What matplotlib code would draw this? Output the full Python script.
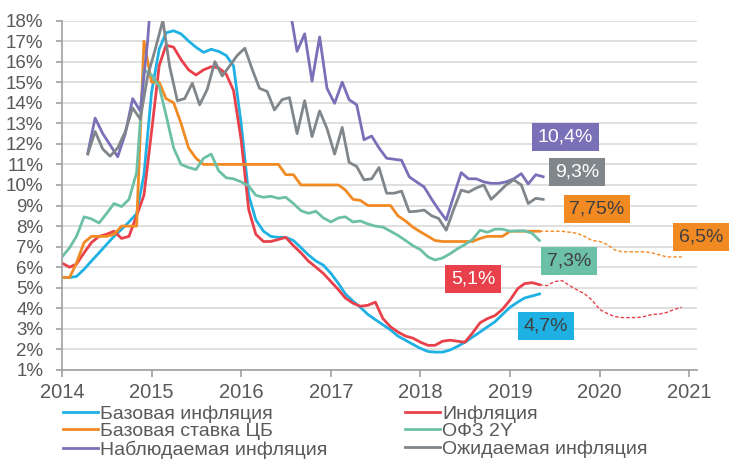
import numpy as np
import pandas as pd
import matplotlib
matplotlib.use("Agg")
import matplotlib.pyplot as plt
import matplotlib.dates as mdates
from matplotlib.ticker import PercentFormatter

plt.rcParams["font.family"] = ["Liberation Sans", "DejaVu Sans"]

# месячные даты (янв 2014 - май 2019) и прогноз (май 2019 - дек 2020)
dates = pd.date_range("2014-01-01", periods=65, freq="MS")
dates_fc = pd.date_range("2019-05-01", periods=20, freq="MS")
# опросы - середина месяца, с апреля 2014
dates_svy = pd.date_range("2014-04-01", periods=62, freq="MS") + pd.Timedelta(days=15)

core_infl = [5.5, 5.5, 5.55, 5.9, 6.3, 6.7, 7.1, 7.5, 7.85, 8.2, 8.6, 10.5, 14.5, 16.6, 17.4,
             17.5, 17.35, 17.0, 16.7, 16.45, 16.6, 16.5, 16.3, 15.8, 13.0, 9.5, 8.3, 7.75, 7.5,
             7.45, 7.45, 7.3, 6.95, 6.6, 6.3, 6.1, 5.7, 5.2, 4.7, 4.35, 4.05, 3.7, 3.45, 3.2,
             2.95, 2.65, 2.45, 2.25, 2.05, 1.9, 1.87, 1.87, 1.97, 2.15, 2.35, 2.6, 2.85, 3.1,
             3.35, 3.7, 4.05, 4.3, 4.5, 4.6, 4.7]
infl = [6.2, 6.0, 6.15, 6.7, 7.2, 7.5, 7.6, 7.75, 7.4, 7.5, 8.5, 9.5, 12.6, 15.8, 16.8,
        16.7, 16.1, 15.6, 15.35, 15.6, 15.75, 15.7, 15.4, 14.6, 12.2, 8.8, 7.6, 7.25, 7.25,
        7.35, 7.45, 7.05, 6.7, 6.3, 6.0, 5.7, 5.3, 4.9, 4.5, 4.25, 4.1, 4.15, 4.3, 3.5,
        3.1, 2.85, 2.65, 2.55, 2.35, 2.2, 2.2, 2.4, 2.45, 2.4, 2.35, 2.8, 3.3, 3.5, 3.65,
        3.95, 4.4, 4.95, 5.2, 5.25, 5.15]
infl_fc = [5.15, 5.1, 5.3, 5.35, 5.1, 4.9, 4.7, 4.4, 3.95, 3.75, 3.6, 3.55, 3.55, 3.55,
           3.6, 3.7, 3.72, 3.8, 3.95, 4.05]
key_rate = [5.5, 5.5, 6.2, 7.2, 7.5, 7.5, 7.5, 7.6, 8.0, 8.0, 8.0, 17.0, 15.0, 15.0, 14.2,
            14.0, 13.0, 11.8, 11.3, 11.0, 11.0, 11.0, 11.0, 11.0, 11.0, 11.0, 11.0, 11.0,
            11.0, 11.0, 10.5, 10.5, 10.0, 10.0, 10.0, 10.0, 10.0, 10.0, 9.75, 9.3, 9.25,
            9.0, 9.0, 9.0, 9.0, 8.5, 8.25, 7.95, 7.72, 7.5, 7.3, 7.25, 7.25, 7.25, 7.25,
            7.25, 7.4, 7.5, 7.5, 7.5, 7.75, 7.75, 7.75, 7.75, 7.75]
key_rate_fc = [7.75, 7.75, 7.75, 7.75, 7.7, 7.65, 7.5, 7.3, 7.25, 7.1, 6.85, 6.75, 6.75,
               6.75, 6.75, 6.7, 6.6, 6.5, 6.5, 6.5]
ofz2y = [6.5, 6.95, 7.5, 8.45, 8.35, 8.15, 8.6, 9.1, 8.95, 9.3, 10.6, 15.6, 15.35, 14.8,
         13.4, 11.8, 11.0, 10.85, 10.75, 11.3, 11.5, 10.7, 10.35, 10.3, 10.15, 9.95, 9.5,
         9.4, 9.45, 9.35, 9.4, 9.1, 8.75, 8.62, 8.72, 8.4, 8.2, 8.4, 8.45, 8.2, 8.25, 8.1,
         8.0, 7.95, 7.75, 7.55, 7.3, 7.05, 6.85, 6.5, 6.35, 6.45, 6.65, 6.9, 7.1, 7.35, 7.8,
         7.7, 7.85, 7.85, 7.75, 7.77, 7.77, 7.65, 7.3]
observed = [11.55, 13.25, 12.5, 11.95, 11.37, 12.5, 14.2, 13.6, 17.0, 22, 24, 24.5, 24,
            23.5, 23, 22.5, 22.5, 22, 21.5, 21, 21, 20.5, 20.5, 20, 20, 19.5, 19.5, 18.7,
            16.5, 17.35, 15.05, 17.2, 14.7, 13.97, 15.0, 14.15, 13.9, 12.2, 12.38, 11.8,
            11.3, 11.25, 11.2, 10.4, 10.15, 9.9, 9.3, 8.8, 8.3, 9.45, 10.6, 10.3, 10.3,
            10.15, 10.08, 10.08, 10.15, 10.3, 10.55, 10.05, 10.5, 10.4]
expected = [11.5, 12.6, 11.75, 11.4, 11.8, 12.6, 13.75, 13.2, 15.3, 16.6, 18.0, 15.75,
            14.1, 14.2, 14.95, 13.9, 14.65, 16.0, 15.3, 15.8, 16.3, 16.65, 15.6, 14.7,
            14.55, 13.65, 14.15, 14.25, 12.5, 14.1, 12.35, 13.6, 12.75, 11.5, 12.8, 11.1,
            10.9, 10.25, 10.3, 10.85, 9.6, 9.6, 9.7, 8.7, 8.72, 8.78, 8.5, 8.37, 7.8, 8.8,
            9.75, 9.65, 9.85, 10.0, 9.3, 9.65, 10.0, 10.25, 10.0, 9.1, 9.35, 9.3]

c_core, c_infl, c_rate = "#1fb1e3", "#e8414b", "#f28a23"
c_ofz, c_obs, c_exp = "#6cc0a7", "#7a70b8", "#80868a"

fig = plt.figure(figsize=(7.42, 4.70), dpi=100)
ax = fig.add_axes([62 / 742, 1 - 370 / 470, 635 / 742, 349.5 / 470])

lw = 2.0
l_core, = ax.plot(dates, core_infl, color=c_core, lw=lw, label="Базовая инфляция")
l_infl, = ax.plot(dates, infl, color=c_infl, lw=lw, label="Инфляция")
l_rate, = ax.plot(dates, key_rate, color=c_rate, lw=lw, label="Базовая ставка ЦБ")
l_ofz, = ax.plot(dates, ofz2y, color=c_ofz, lw=lw, label="ОФЗ 2Y")
l_obs, = ax.plot(dates_svy, observed, color=c_obs, lw=lw, label="Наблюдаемая инфляция")
l_exp, = ax.plot(dates_svy, expected, color=c_exp, lw=lw, label="Ожидаемая инфляция")
ax.plot(dates_fc, infl_fc, color=c_infl, lw=1.0, ls=(0, (2.5, 1.5)))
ax.plot(dates_fc, key_rate_fc, color=c_rate, lw=1.0, ls=(0, (2.5, 1.5)))

ax.set_ylim(1, 18)
ax.set_xlim(pd.Timestamp("2014-01-01"), pd.Timestamp("2021-02-01"))
ax.set_yticks(np.arange(1, 19))
ax.yaxis.set_major_formatter(PercentFormatter(decimals=0))
ax.xaxis.set_major_locator(mdates.YearLocator())
ax.xaxis.set_major_formatter(mdates.DateFormatter("%Y"))
ax.grid(axis="y", color="#d9d9d9", lw=1.2)
ax.set_axisbelow(True)
for s in ["top", "right"]:
    ax.spines[s].set_visible(False)
for s in ["left", "bottom"]:
    ax.spines[s].set_color("#a0a0a0")
    ax.spines[s].set_linewidth(1.2)
ax.tick_params(axis="y", length=4, width=1.2, color="#a0a0a0", pad=9.5,
               labelsize=13.5, labelcolor="#595959")
ax.tick_params(axis="x", length=5, width=1.2, color="#a0a0a0", pad=4,
               labelsize=14.5, labelcolor="#595959")

# подписи последних значений
labels = ["10,4%", "9,3%", "7,75%", "6,5%", "7,3%", "5,1%", "4,7%"]
label_pos = [("2019-08-15", 12.33), ("2019-10-01", 10.65), ("2019-12-20", 8.83),
             ("2021-02-17", 7.46), ("2019-08-29", 6.32), ("2018-08-03", 5.42),
             ("2019-05-27", 3.15)]
label_bg = [c_obs, c_exp, c_rate, c_rate, c_ofz, c_infl, c_core]
label_fg = ["white", "white", "#3f3f3f", "#3f3f3f", "#3f3f3f", "white", "#3f3f3f"]
for txt, (d, v), bg, fg in zip(labels, label_pos, label_bg, label_fg):
    ax.text(pd.Timestamp(d), v, txt, ha="center", va="center", fontsize=14, color=fg,
            bbox=dict(boxstyle="square,pad=0.28", fc=bg, ec="none"), clip_on=False)

fig.legend(handles=[l_core, l_rate, l_obs, l_infl, l_ofz, l_exp], ncol=2,
           loc="upper left", bbox_to_anchor=(63 / 742, 1 - 405 / 470),
           frameon=False, fontsize=14, handlelength=1.8, handletextpad=0.1,
           labelspacing=0.0, columnspacing=4.0, borderpad=0, borderaxespad=0,
           labelcolor="#595959")

fig.savefig("out.png", dpi=100)
